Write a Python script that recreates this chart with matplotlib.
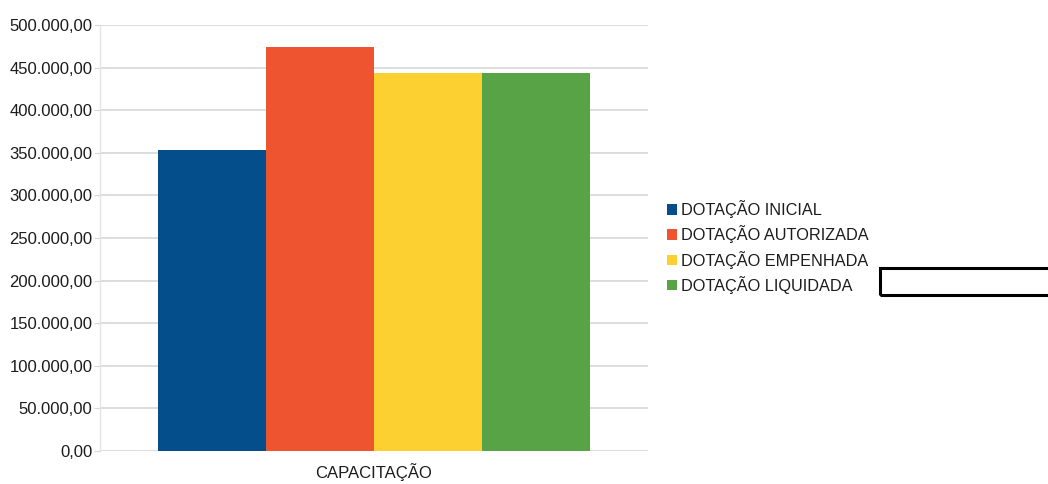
import matplotlib
matplotlib.use("Agg")
import matplotlib.pyplot as plt
import numpy as np
from matplotlib.ticker import FuncFormatter, MultipleLocator
from matplotlib.patches import Rectangle

plt.rcParams['font.family'] = ['Liberation Sans', 'DejaVu Sans']

# Data
categories = ['CAPACITAÇÃO']
series_names = ['DOTAÇÃO INICIAL', 'DOTAÇÃO AUTORIZADA', 'DOTAÇÃO EMPENHADA', 'DOTAÇÃO LIQUIDADA']
series_values = [[353000.0], [474000.0], [444000.0], [444000.0]]
series_colors = ['#044e8c', '#ee5430', '#fdd032', '#57a345']

W, H = 1048, 484
fig = plt.figure(figsize=(W / 100, H / 100), dpi=100)
fig.patch.set_facecolor('white')

ax = fig.add_axes([100 / W, 1 - 451 / H, 548 / W, 426 / H])

n = len(series_names)
group_w = 0.79
bar_w = group_w / n
x = np.arange(len(categories))
for i, (name, vals, col) in enumerate(zip(series_names, series_values, series_colors)):
    offs = -group_w / 2 + bar_w * (i + 0.5)
    ax.bar(x + offs, vals, width=bar_w, color=col, label=name, zorder=3, linewidth=0)

ax.set_xlim(-0.5, 0.5)
ax.set_ylim(0, 500000)
ax.yaxis.set_major_locator(MultipleLocator(50000))


def br_fmt(v, pos):
    s = f"{v:,.2f}"
    return s.replace(',', 'X').replace('.', ',').replace('X', '.')


ax.yaxis.set_major_formatter(FuncFormatter(br_fmt))
ax.set_xticks(x)
ax.set_xticklabels(categories)

ax.grid(axis='y', color='#d9d6d6', linewidth=1.2, zorder=0)
for side in ['top', 'right', 'bottom']:
    ax.spines[side].set_visible(False)
ax.spines['left'].set_color('#e6e2e2')
ax.spines['left'].set_linewidth(1.0)
ax.tick_params(axis='y', length=4, color='#d9d6d6', labelsize=12, pad=1.5, labelcolor='#1c1c1c')
ax.tick_params(axis='x', length=0, labelsize=12, pad=9, labelcolor='#1c1c1c')

leg = ax.legend(loc='center left', bbox_to_anchor=(667 / W, 1 - 247 / H),
                bbox_transform=fig.transFigure, frameon=False,
                fontsize=11.7, handlelength=0.6, handleheight=0.6,
                handletextpad=0.25, labelspacing=0.45, borderpad=0, borderaxespad=0)
for t in leg.get_texts():
    t.set_color('#1c1c1c')

# Empty framed box to the right of the legend
fig.patches.append(Rectangle((880 / W, 1 - 295 / H), 175 / W, 27 / H,
                             transform=fig.transFigure, fill=False,
                             edgecolor='black', linewidth=2.2, clip_on=False))

fig.savefig('out.png', dpi=100)
